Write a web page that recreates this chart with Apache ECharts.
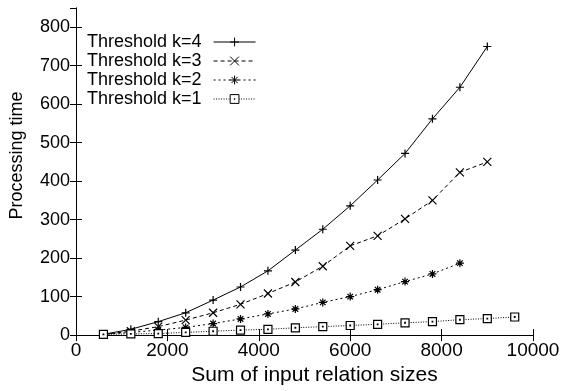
<!DOCTYPE html>
<html>
<head>
<meta charset="utf-8">
<script src="https://cdn.jsdelivr.net/npm/echarts@6/dist/echarts.min.js"></script>
<style>html,body{margin:0;padding:0;background:#fff}#c{width:564px;height:391px}</style>
</head>
<body>
<div id="c"></div>
<script>
var xValues = [600, 1200, 1800, 2400, 3000, 3600, 4200, 4800, 5400, 6000, 6600, 7200, 7800, 8400, 9000, 9600];
var k4 = [2, 15, 35, 58, 91, 125, 167, 221, 275, 336, 403, 472, 562, 644, 750];
var k3 = [2, 10, 22, 39, 58, 80, 108, 138, 179, 232, 258, 302, 350, 423, 450];
var k2 = [2, 7, 13, 20, 30, 42, 55, 68, 85, 100, 118, 139, 159, 187];
var k1 = [2, 3, 4, 7, 10, 13, 15, 19, 22, 25, 28, 32, 35, 40, 43, 47];
var seriesNames = ['Threshold k=4', 'Threshold k=3', 'Threshold k=2', 'Threshold k=1'];
var xTickValues = [0, 2000, 4000, 6000, 8000, 10000];
var yTickValues = [0, 100, 200, 300, 400, 500, 600, 700, 800];

function pairs(ys) { return ys.map(function (y, i) { return [xValues[i], y]; }); }

var FONT = '"Liberation Sans", Arial, Helvetica, sans-serif';
var symPlus = 'path://M0,5L10,5M5,0L5,10';
var symCross = 'path://M0,0L10,10M10,0L0,10';
var symStar = 'path://M0,5L10,5M5,0L5,10M1.5,1.5L8.5,8.5M8.5,1.5L1.5,8.5';
var symBox = 'path://M0,0L10,0L10,10L0,10Z M4.6,4.6L5.4,4.6L5.4,5.4L4.6,5.4Z';

function mk(name, data, dash, sym, size, fill) {
  return {
    name: name, type: 'line', data: pairs(data),
    xAxisIndex: 0, yAxisIndex: 0,
    symbol: sym, symbolSize: size, showAllSymbol: true,
    lineStyle: { color: '#000', width: 1, type: dash },
    itemStyle: { color: fill, borderColor: '#000', borderWidth: 1.2 },
    emphasis: { disabled: true }, animation: false
  };
}

var chart = echarts.init(document.getElementById('c'), null, { renderer: 'canvas' });
var axisCommon = {
  type: 'value',
  axisLine: { show: true, lineStyle: { color: '#000', width: 1 } },
  axisTick: { show: true, inside: true, length: 6, lineStyle: { color: '#000' } },
  splitLine: { show: false }
};
chart.setOption({
  animation: false,
  grid: { left: 76, right: 31, top: 8, bottom: 55, containLabel: false },
  legend: {
    data: seriesNames, orient: 'vertical', left: 87, top: 33, align: 'right',
    itemWidth: 42, itemHeight: 11, itemGap: 1, padding: 0,
    lineStyle: { width: 1 },
    itemStyle: { borderWidth: 1 },
    textStyle: { fontFamily: FONT, fontSize: 18, lineHeight: 16, color: '#000', padding: [0, 7, 0, 0] },
    selectedMode: false
  },
  xAxis: [
    Object.assign({}, axisCommon, {
      position: 'bottom', min: 0, max: 10000, interval: 2000,
      name: 'Sum of input relation sizes', nameLocation: 'middle', nameGap: 28,
      nameTextStyle: { fontFamily: FONT, fontSize: 21, color: '#000', padding: [0, 0, 0, 20] },
      axisLabel: { fontFamily: FONT, fontSize: 19, color: '#000', margin: 6,
        formatter: function (v) { return xTickValues.indexOf(v) >= 0 ? String(v) : ''; } }
    }),
    Object.assign({}, axisCommon, {
      position: 'top', min: 0, max: 10000, interval: 2000, axisLabel: { show: false }
    })
  ],
  yAxis: [
    Object.assign({}, axisCommon, {
      position: 'left', min: 0, max: 850, interval: 100,
      name: 'Processing time', nameLocation: 'middle', nameGap: 50,
      nameTextStyle: { fontFamily: FONT, fontSize: 18, color: '#000', padding: [0, 0, 0, 32] },
      axisLabel: { fontFamily: FONT, fontSize: 18, color: '#000', margin: 6, showMaxLabel: false,
        formatter: function (v) { return yTickValues.indexOf(v) >= 0 ? String(v) : ''; } }
    }),
    Object.assign({}, axisCommon, {
      position: 'right', min: 0, max: 850, interval: 100, axisLabel: { show: false }
    })
  ],
  series: [
    mk(seriesNames[0], k4, 'solid', symPlus, 8, 'none'),
    mk(seriesNames[1], k3, [4, 3], symCross, 8, 'none'),
    mk(seriesNames[2], k2, [2, 3], symStar, 8, 'none'),
    mk(seriesNames[3], k1, [1, 1.5], symBox, 8, '#fff')
  ]
});
</script>
</body>
</html>
